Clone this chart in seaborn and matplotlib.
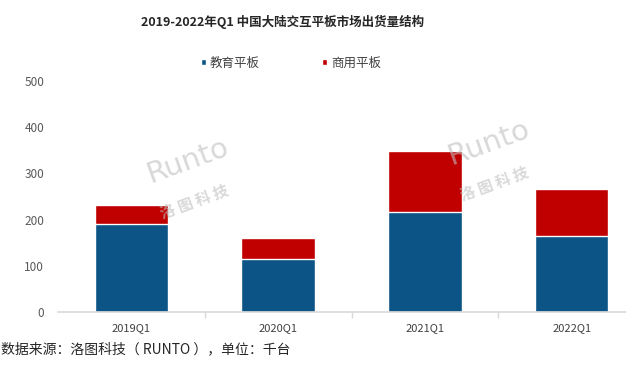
import matplotlib
matplotlib.use("Agg")
import matplotlib.pyplot as plt
import seaborn as sns
import pandas as pd

# data (thousand units)
quarters = ["2019Q1", "2020Q1", "2021Q1", "2022Q1"]
edu = [190, 114, 216, 165]       # 教育平板
biz = [42, 46, 132, 102]         # 商用平板
series_names = ["教育平板", "商用平板"]
colors = ["#0B5485", "#C00000"]

sns.set_theme(style="white")
plt.rcParams['font.family'] = ['Noto Sans CJK SC', 'DejaVu Sans']

df = pd.DataFrame({"quarter": quarters, "edu": edu, "biz": biz})
df["total"] = df["edu"] + df["biz"]

fig = plt.figure(figsize=(6.26, 3.75), dpi=100)
ax = fig.add_axes([58 / 626, 1 - 312 / 375, (626 - 58) / 626, (312 - 81) / 375])

# stacked bars: total in red first, then blue bottom part over it
sns.barplot(data=df, x="quarter", y="total", color=colors[1], saturation=1,
            width=0.5, edgecolor="white", linewidth=1, ax=ax, label=series_names[1])
sns.barplot(data=df, x="quarter", y="edu", color=colors[0], saturation=1,
            width=0.5, edgecolor="white", linewidth=1, ax=ax, label=series_names[0])

h, l = ax.get_legend_handles_labels()
if ax.get_legend() is not None:
    ax.get_legend().remove()

ax.set_ylim(0, 500)
ax.set_xlim(-0.5, 3.37)
ax.set_yticks(range(0, 501, 100))
ax.set_xlabel("")
ax.set_ylabel("")
for s in ["top", "right", "left"]:
    ax.spines[s].set_visible(False)
ax.spines["bottom"].set_color("#D9D9D9")
ax.spines["bottom"].set_linewidth(1.2)

ax.tick_params(axis="y", length=0, labelsize=8.5, labelcolor="#595959", pad=10)
ax.tick_params(axis="x", length=0, labelsize=8, labelcolor="#404040", pad=8)
# small ticks between categories
ax.set_xticks([0.5, 1.5, 2.5], minor=True)
ax.tick_params(axis="x", which="minor", length=4, color="#D9D9D9", width=1, bottom=True)

# legend
order = [l.index(series_names[0]), l.index(series_names[1])]
leg = fig.legend([h[i] for i in order], [l[i] for i in order], loc="center",
                 bbox_to_anchor=(0.465, 1 - 63 / 375), ncol=2, frameon=False,
                 fontsize=9, handlelength=0.4, handleheight=0.4,
                 columnspacing=5.0, handletextpad=0.3)
for t in leg.get_texts():
    t.set_color("#404040")

# watermarks
for (wx, wy) in [(0.30, 0.52), (0.78, 0.57)]:
    fig.text(wx, wy + 0.05, "Runto", fontsize=21, color="#BFBFBF", alpha=0.6,
             rotation=20, ha="center", va="center", family="DejaVu Sans")
    fig.text(wx + 0.01, wy - 0.06, "洛 图 科 技", fontsize=11, color="#BFBFBF", alpha=0.6,
             rotation=20, ha="center", va="center", weight="bold")

fig.text(283 / 626, 1 - 22 / 375, "2019-2022年Q1 中国大陆交互平板市场出货量结构",
         ha="center", va="center", fontsize=9, weight="bold", color="#262626")
fig.text(0.002, 1 - 349 / 375, "数据来源：洛图科技（ RUNTO ），单位：千台",
         ha="left", va="center", fontsize=10, color="#262626")

fig.savefig("out.png", dpi=100)
